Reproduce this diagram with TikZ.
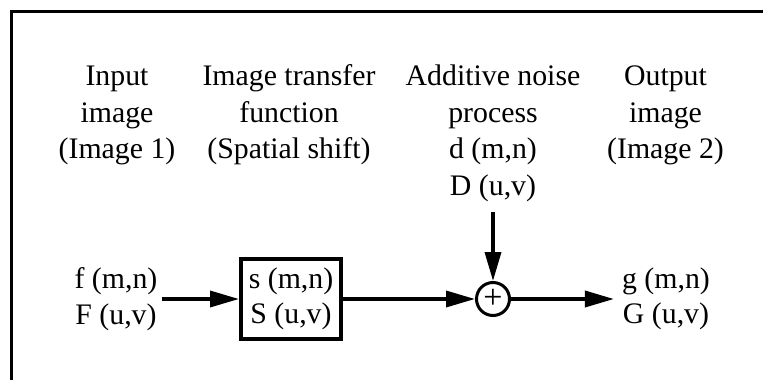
\documentclass[tikz,border=0pt]{standalone}
\usepackage{fontspec}
\setmainfont{Liberation Serif}
\usetikzlibrary{arrows.meta}
\begin{document}
\begin{tikzpicture}[x=1pt,y=-1pt,
  txt/.style={inner sep=0pt, anchor=base, font=\fontsize{29.8}{35.5}\selectfont},
  sig/.style={align=center, inner ysep=0pt, font=\fontsize{29.8}{35.5}\selectfont},
  flow/.style={line width=3.5pt, -{Triangle[length=29pt,width=16pt]}},
  wire/.style={line width=3.5pt}]
\clip (0,0) rectangle (763,380);
% outer frame (runs off the right and bottom)
\draw[line width=3pt] (11,11) rectangle (820,430);

% column headings
\node[txt] (in1) at (117,85.5) {Input};
\node[txt] (in2) at (117,122) {image};
\node[txt] (in3) at (117,158.5) {(Image 1)};

\node[txt] (tf1) at (289,85.5) {Image transfer};
\node[txt] (tf2) at (289,122) {function};
\node[txt] (tf3) at (289,158.5) {(Spatial shift)};

\node[txt] (nz1) at (493,85.5) {Additive noise};
\node[txt] (nz2) at (493,122) {process};
\node[txt] (nz3) at (493,158.5) {d (m,n)};
\node[txt] (nz4) at (493,195) {D (u,v)};

\node[txt] (out1) at (665.5,85.5) {Output};
\node[txt] (out2) at (665.5,122) {image};
\node[txt] (out3) at (665.5,158.5) {(Image 2)};

% signal chain
\node[sig, inner xsep=4pt] (fin) at (116,299) {f (m,n)\\F (u,v)};
\node[sig, draw, line width=4pt, minimum width=100pt, minimum height=80pt]
  (tf) at (291,299) {s (m,n)\\S (u,v)};
\node[draw, circle, line width=3pt, minimum size=33pt, inner sep=0pt,
  font=\fontsize{34}{34}\selectfont] (sum) at (493,299) {\raisebox{-1pt}{+}};
\node[sig, inner xsep=8pt] (gout) at (666,299) {g (m,n)\\G (u,v)};

\draw[flow] (fin) -- (tf);
\draw[flow] (tf) -- (sum);
\draw[flow, shorten <=10pt] (sum |- nz4.south) -- (sum);
\draw[flow] (sum) -- (gout);
\end{tikzpicture}
\end{document}
